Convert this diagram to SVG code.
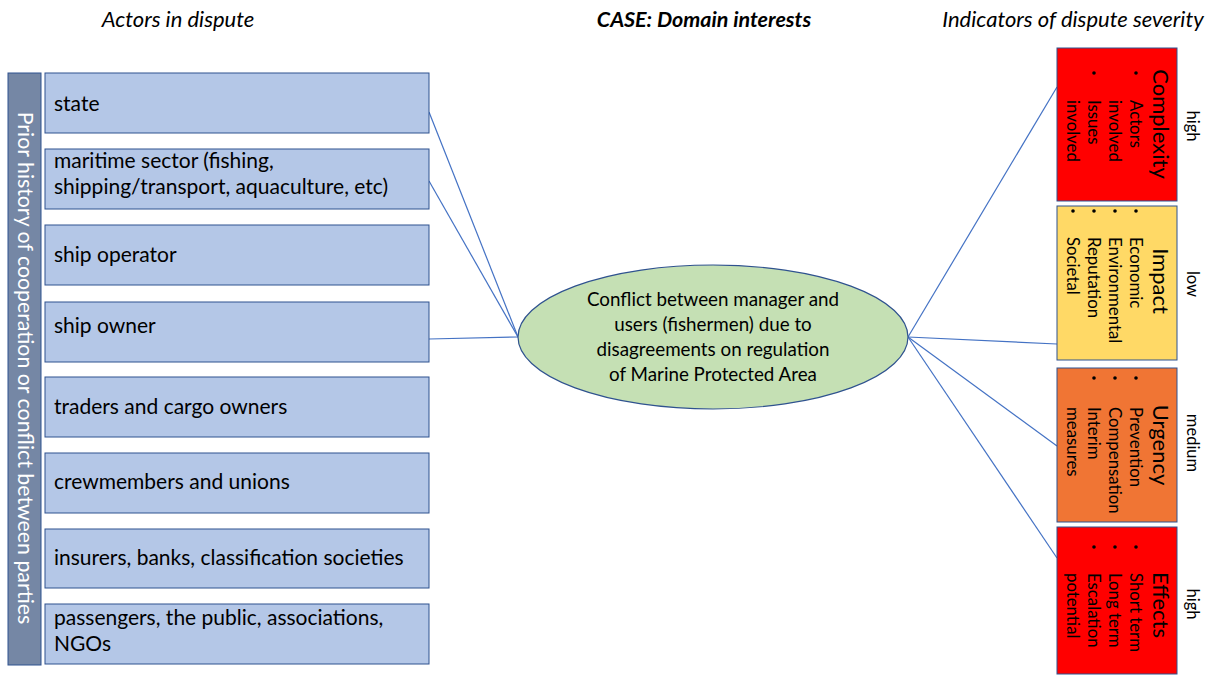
<svg xmlns="http://www.w3.org/2000/svg" width="1216" height="675" viewBox="0 0 1216 675">
<style>
  text { font-family: Lato, "Liberation Sans", sans-serif; fill: #000; }
  .hdr { font-size: 22px; font-style: italic; }
  .hdrb { font-size: 21.5px; font-style: italic; font-weight: bold; }
  .actor rect { fill: #b4c7e7; stroke: #2f528f; stroke-width: 1; }
  .actor text { font-size: 21px; }
  .bar { fill: #7587a5; stroke: #2f528f; stroke-width: 1; }
  .bartxt { font-size: 21.3px; fill: #ffffff; }
  .conn line { stroke: #4472c4; stroke-width: 1.2; }
  .case ellipse { fill: #c5e0b4; stroke: #2f528f; stroke-width: 1.2; }
  .case text { font-size: 18.8px; text-anchor: middle; }
  .ind rect { stroke: #2f528f; stroke-width: 1; }
  .ttl { font-size: 22px; text-anchor: middle; }
  .bul { font-size: 16.8px; }
  .lvl { font-size: 16.5px; text-anchor: middle; }
  .dot { fill: #000; }
</style>

<g id="headers">
  <text class="hdr" x="178" y="27" text-anchor="middle">Actors in dispute</text>
  <text class="hdrb" x="704" y="27" text-anchor="middle">CASE: Domain interests</text>
  <text class="hdr" x="1073" y="27" text-anchor="middle">Indicators of dispute severity</text>
</g>

<g id="prior-history">
  <rect class="bar" x="8" y="73" width="33" height="592"/>
  <g transform="translate(18,368) rotate(90)">
    <text class="bartxt" x="0" y="0" text-anchor="middle">Prior history of cooperation or conflict between parties</text>
  </g>
</g>

<g id="connectors" class="conn">
  <line x1="429" y1="112" x2="518" y2="337"/>
  <line x1="429" y1="181" x2="518" y2="337"/>
  <line x1="429" y1="339" x2="518" y2="337"/>
  <line x1="908" y1="337" x2="1057" y2="87"/>
  <line x1="908" y1="337" x2="1057" y2="344"/>
  <line x1="908" y1="337" x2="1057" y2="446"/>
  <line x1="908" y1="337" x2="1057" y2="558"/>
</g>

<g id="actor-state" class="actor">
  <rect x="45" y="73" width="384" height="60"/>
  <text x="54" y="111">state</text>
</g>
<g id="actor-maritime" class="actor">
  <rect x="45" y="149" width="384" height="60"/>
  <text x="54" y="168">maritime sector (fishing,</text>
  <text x="54" y="194">shipping/transport, aquaculture, etc)</text>
</g>
<g id="actor-operator" class="actor">
  <rect x="45" y="225" width="384" height="60"/>
  <text x="54" y="262">ship operator</text>
</g>
<g id="actor-owner" class="actor">
  <rect x="45" y="302" width="384" height="60"/>
  <text x="54" y="333">ship owner</text>
</g>
<g id="actor-traders" class="actor">
  <rect x="45" y="377" width="384" height="60"/>
  <text x="54" y="414">traders and cargo owners</text>
</g>
<g id="actor-crew" class="actor">
  <rect x="45" y="453" width="384" height="60"/>
  <text x="54" y="489">crewmembers and unions</text>
</g>
<g id="actor-insurers" class="actor">
  <rect x="45" y="529" width="384" height="59"/>
  <text x="54" y="565">insurers, banks, classification societies</text>
</g>
<g id="actor-passengers" class="actor">
  <rect x="45" y="604" width="384" height="60"/>
  <text x="54" y="625">passengers, the public, associations,</text>
  <text x="54" y="651">NGOs</text>
</g>

<g id="case" class="case">
  <ellipse cx="713" cy="337" rx="195" ry="72"/>
  <text x="713" y="306">Conflict between manager and</text>
  <text x="713" y="331">users (fishermen) due to</text>
  <text x="713" y="356">disagreements on regulation</text>
  <text x="713" y="381">of Marine Protected Area</text>
</g>

<g id="ind-complexity" class="ind">
  <rect x="1057" y="48" width="120" height="153" fill="#ff0000"/>
  <g transform="translate(1177,48) rotate(90)">
    <text class="ttl" x="76" y="24">Complexity</text>
    <circle class="dot" cx="25" cy="41" r="1.8"/>
    <text class="bul" x="52" y="47">Actors</text>
    <text class="bul" x="52" y="68">involved</text>
    <circle class="dot" cx="25" cy="83" r="1.8"/>
    <text class="bul" x="52" y="89">Issues</text>
    <text class="bul" x="52" y="110">involved</text>
    <text class="lvl" x="78" y="-10">high</text>
  </g>
</g>

<g id="ind-impact" class="ind">
  <rect x="1057" y="206" width="120" height="154" fill="#ffd966"/>
  <g transform="translate(1177,206) rotate(90)">
    <text class="ttl" x="75" y="24">Impact</text>
    <circle class="dot" cx="5" cy="41" r="1.8"/>
    <text class="bul" x="31" y="47">Economic</text>
    <circle class="dot" cx="5" cy="62" r="1.8"/>
    <text class="bul" x="31" y="68">Environmental</text>
    <circle class="dot" cx="5" cy="83" r="1.8"/>
    <text class="bul" x="31" y="89">Reputation</text>
    <circle class="dot" cx="5" cy="104" r="1.8"/>
    <text class="bul" x="31" y="110">Societal</text>
    <text class="lvl" x="78" y="-10">low</text>
  </g>
</g>

<g id="ind-urgency" class="ind">
  <rect x="1057" y="368" width="120" height="154" fill="#f07534"/>
  <g transform="translate(1177,368) rotate(90)">
    <text class="ttl" x="77" y="24">Urgency</text>
    <circle class="dot" cx="10" cy="41" r="1.8"/>
    <text class="bul" x="39" y="47">Prevention</text>
    <circle class="dot" cx="10" cy="62" r="1.8"/>
    <text class="bul" x="39" y="68">Compensation</text>
    <circle class="dot" cx="10" cy="83" r="1.8"/>
    <text class="bul" x="39" y="89">Interim</text>
    <text class="bul" x="39" y="110">measures</text>
    <text class="lvl" x="75" y="-10">medium</text>
  </g>
</g>

<g id="ind-effects" class="ind">
  <rect x="1057" y="527" width="120" height="147" fill="#ff0000"/>
  <g transform="translate(1177,527) rotate(90)">
    <text class="ttl" x="78" y="24">Effects</text>
    <circle class="dot" cx="20" cy="41" r="1.8"/>
    <text class="bul" x="46" y="47">Short term</text>
    <circle class="dot" cx="20" cy="62" r="1.8"/>
    <text class="bul" x="46" y="68">Long term</text>
    <circle class="dot" cx="20" cy="83" r="1.8"/>
    <text class="bul" x="46" y="89">Escalation</text>
    <text class="bul" x="46" y="110">potential</text>
    <text class="lvl" x="77" y="-10">high</text>
  </g>
</g>
</svg>
